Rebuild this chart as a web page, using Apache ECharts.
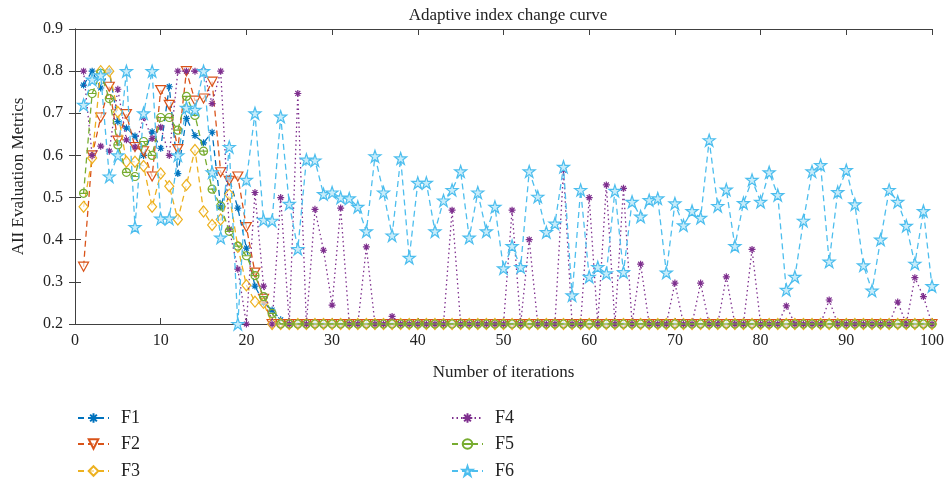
<!DOCTYPE html>
<html>
<head>
<meta charset="utf-8">
<script src="https://cdn.jsdelivr.net/npm/echarts@6/dist/echarts.min.js"></script>
<style>html,body{margin:0;padding:0;background:#fff}#c{width:948px;height:484px}</style>
</head>
<body>
<div id="c"></div>
<script>
const titleText = 'Adaptive index change curve';
const xName = 'Number of iterations';
const yName = 'AII Evaluation Metrics';
const seriesNames = ['F1', 'F2', 'F3', 'F4', 'F5', 'F6'];
const xTicks = [0, 10, 20, 30, 40, 50, 60, 70, 80, 90, 100];
const yTicks = [0.2, 0.3, 0.4, 0.5, 0.6, 0.7, 0.8, 0.9];

// values for iterations 1..100
const F1 = [0.767,0.8,0.76,0.8,0.68,0.665,0.646,0.6,0.656,0.617,0.763,0.557,0.688,0.647,0.63,0.655,0.478,0.546,0.475,0.38,
0.29,0.25,0.233,0.21,0.2,0.2,0.2,0.2,0.2,0.2,0.2,0.2,0.2,0.2,0.2,0.2,0.2,0.2,0.2,0.2,
0.2,0.2,0.2,0.2,0.2,0.2,0.2,0.2,0.2,0.2,0.2,0.2,0.2,0.2,0.2,0.2,0.2,0.2,0.2,0.2,
0.2,0.2,0.2,0.2,0.2,0.2,0.2,0.2,0.2,0.2,0.2,0.2,0.2,0.2,0.2,0.2,0.2,0.2,0.2,0.2,
0.2,0.2,0.2,0.2,0.2,0.2,0.2,0.2,0.2,0.2,0.2,0.2,0.2,0.2,0.2,0.2,0.2,0.2,0.2,0.2];
const F2 = [0.336,0.6,0.69,0.763,0.635,0.698,0.62,0.61,0.55,0.755,0.72,0.615,0.8,0.73,0.735,0.775,0.56,0.54,0.55,0.43,
0.322,0.26,0.2,0.2,0.2,0.2,0.2,0.2,0.2,0.2,0.2,0.2,0.2,0.2,0.2,0.2,0.2,0.2,0.2,0.2,
0.2,0.2,0.2,0.2,0.2,0.2,0.2,0.2,0.2,0.2,0.2,0.2,0.2,0.2,0.2,0.2,0.2,0.2,0.2,0.2,
0.2,0.2,0.2,0.2,0.2,0.2,0.2,0.2,0.2,0.2,0.2,0.2,0.2,0.2,0.2,0.2,0.2,0.2,0.2,0.2,
0.2,0.2,0.2,0.2,0.2,0.2,0.2,0.2,0.2,0.2,0.2,0.2,0.2,0.2,0.2,0.2,0.2,0.2,0.2,0.2];
const F3 = [0.478,0.594,0.8,0.8,0.703,0.585,0.585,0.575,0.478,0.557,0.527,0.448,0.53,0.613,0.467,0.435,0.448,0.507,0.383,0.292,
0.253,0.25,0.2,0.2,0.2,0.2,0.2,0.2,0.2,0.2,0.2,0.2,0.2,0.2,0.2,0.2,0.2,0.2,0.2,0.2,
0.2,0.2,0.2,0.2,0.2,0.2,0.2,0.2,0.2,0.2,0.2,0.2,0.2,0.2,0.2,0.2,0.2,0.2,0.2,0.2,
0.2,0.2,0.2,0.2,0.2,0.2,0.2,0.2,0.2,0.2,0.2,0.2,0.2,0.2,0.2,0.2,0.2,0.2,0.2,0.2,
0.2,0.2,0.2,0.2,0.2,0.2,0.2,0.2,0.2,0.2,0.2,0.2,0.2,0.2,0.2,0.2,0.2,0.2,0.2,0.2];
const F4 = [0.8,0.6,0.622,0.61,0.757,0.637,0.62,0.69,0.64,0.667,0.6,0.8,0.8,0.8,0.8,0.723,0.8,0.425,0.33,0.2,
0.512,0.29,0.2,0.5,0.2,0.747,0.2,0.472,0.375,0.245,0.475,0.2,0.2,0.383,0.2,0.2,0.218,0.2,0.2,0.2,
0.2,0.2,0.2,0.47,0.2,0.2,0.2,0.2,0.2,0.2,0.47,0.2,0.4,0.2,0.2,0.2,0.565,0.2,0.2,0.5,
0.2,0.53,0.2,0.522,0.2,0.342,0.2,0.2,0.2,0.297,0.2,0.2,0.297,0.2,0.2,0.312,0.2,0.2,0.377,0.2,
0.2,0.2,0.243,0.2,0.2,0.2,0.2,0.257,0.2,0.2,0.2,0.2,0.2,0.2,0.2,0.252,0.2,0.31,0.265,0.2];
const F5 = [0.51,0.747,0.795,0.735,0.625,0.56,0.55,0.633,0.6,0.69,0.69,0.66,0.74,0.695,0.61,0.52,0.48,0.42,0.385,0.362,
0.315,0.265,0.225,0.2,0.2,0.2,0.2,0.2,0.2,0.2,0.2,0.2,0.2,0.2,0.2,0.2,0.2,0.2,0.2,0.2,
0.2,0.2,0.2,0.2,0.2,0.2,0.2,0.2,0.2,0.2,0.2,0.2,0.2,0.2,0.2,0.2,0.2,0.2,0.2,0.2,
0.2,0.2,0.2,0.2,0.2,0.2,0.2,0.2,0.2,0.2,0.2,0.2,0.2,0.2,0.2,0.2,0.2,0.2,0.2,0.2,
0.2,0.2,0.2,0.2,0.2,0.2,0.2,0.2,0.2,0.2,0.2,0.2,0.2,0.2,0.2,0.2,0.2,0.2,0.2,0.2];
const F6 = [0.72,0.78,0.79,0.55,0.6,0.8,0.43,0.7,0.8,0.45,0.45,0.6,0.713,0.708,0.8,0.56,0.405,0.62,0.2,0.542,
0.7,0.447,0.445,0.692,0.485,0.378,0.59,0.588,0.508,0.512,0.5,0.498,0.478,0.42,0.598,0.512,0.41,0.593,0.357,0.535,
0.535,0.42,0.493,0.518,0.562,0.405,0.512,0.42,0.478,0.332,0.385,0.335,0.562,0.502,0.418,0.438,0.573,0.268,0.518,0.312,
0.335,0.32,0.516,0.323,0.49,0.455,0.494,0.498,0.322,0.486,0.434,0.468,0.452,0.636,0.48,0.519,0.385,0.487,0.542,0.49,
0.56,0.506,0.281,0.312,0.445,0.562,0.577,0.348,0.513,0.565,0.484,0.339,0.279,0.4,0.518,0.49,0.433,0.343,0.468,0.29];

const allValues = [F1, F2, F3, F4, F5, F6];
const colors = ['#0072BD', '#D95319', '#EDB120', '#7E2F8E', '#77AC30', '#4DBEEE'];

const SYM = {
  asterisk: 'path://M5 0L5 10M0 5L10 5M1.5 1.5L8.5 8.5M8.5 1.5L1.5 8.5',
  triDown: 'path://M0 0L10 0L5 10Z',
  diamond: 'path://M5 0L10 5L5 10L0 5Z',
  circBar: 'path://M0 5A5 5 0 1 1 10 5A5 5 0 1 1 0 5ZM0 5L10 5',
  star: 'path://M5 0L6.2 3.6L10 3.6L6.9 5.9L8.1 9.6L5 7.3L1.9 9.6L3.1 5.9L0 3.6L3.8 3.6Z'
};
const styles = [
  {sym: SYM.asterisk, size: 7, dash: [6, 4], fill: 'rgba(0,0,0,0)'},
  {sym: SYM.triDown, size: [10, 9], dash: [6, 4], fill: 'rgba(255,255,255,0.6)'},
  {sym: SYM.diamond, size: [9, 11], dash: [6, 4], fill: 'rgba(255,255,255,0.6)'},
  {sym: SYM.asterisk, size: 7, dash: [1.5, 3], fill: 'rgba(0,0,0,0)'},
  {sym: SYM.circBar, size: 8, dash: [6, 4], fill: 'rgba(0,0,0,0)'},
  {sym: SYM.star, size: 12, dash: [6, 4], fill: '#c8ecfa'}
];

const FONT = 'Liberation Serif';
const series = seriesNames.map((name, k) => ({
  name: name,
  type: 'line',
  data: allValues[k].map((v, i) => [i + 1, v]),
  symbol: styles[k].sym,
  symbolSize: styles[k].size,
  showAllSymbol: true,
  lineStyle: {color: colors[k], width: 1.3, type: styles[k].dash},
  itemStyle: {color: styles[k].fill, borderColor: colors[k], borderWidth: 1.2},
  emphasis: {disabled: true},
  z: 2 + k
}));

const legendCols = [72, 446];
const legendTops = [404, 430, 457];
const legends = seriesNames.map((name, k) => ({
  data: [name],
  left: legendCols[Math.floor(k / 3)],
  top: legendTops[k % 3],
  itemWidth: 31, itemHeight: 12,
  selectedMode: false,
  textStyle: {fontFamily: FONT, fontSize: 18, color: '#222', padding: [0, 0, 0, 7]}
}));

const axisLineStyle = {color: '#404040', width: 1};
const chart = echarts.init(document.getElementById('c'), null, {renderer: 'canvas'});
chart.setOption({
  animation: false,
  backgroundColor: '#fff',
  title: {
    text: titleText, left: 503, top: 2, textAlign: 'center',
    textStyle: {fontFamily: FONT, fontSize: 17, fontWeight: 'normal', color: '#222'}
  },
  grid: {left: 75, right: 16, top: 29, bottom: 160},
  legend: legends,
  xAxis: [
    {type: 'value', min: xTicks[0], max: xTicks[xTicks.length - 1], interval: 10, position: 'bottom',
     name: xName, nameLocation: 'middle', nameGap: 40,
     nameTextStyle: {fontFamily: FONT, fontSize: 17, color: '#222'},
     axisLine: {lineStyle: axisLineStyle}, axisTick: {inside: true, length: 6, lineStyle: axisLineStyle},
     axisLabel: {fontFamily: FONT, fontSize: 16, color: '#222', margin: 9}, splitLine: {show: false}},
    {type: 'value', min: xTicks[0], max: xTicks[xTicks.length - 1], interval: 10, position: 'top',
     axisLine: {lineStyle: axisLineStyle}, axisTick: {inside: true, length: 6, lineStyle: axisLineStyle},
     axisLabel: {show: false}, splitLine: {show: false}}
  ],
  yAxis: [
    {type: 'value', min: yTicks[0], max: yTicks[yTicks.length - 1], interval: 0.1, position: 'left',
     name: yName, nameLocation: 'middle', nameGap: 48,
     nameTextStyle: {fontFamily: FONT, fontSize: 17, color: '#222'},
     axisLine: {show: true, lineStyle: axisLineStyle}, axisTick: {show: true, inside: true, length: 6, lineStyle: axisLineStyle},
     axisLabel: {fontFamily: FONT, fontSize: 16, color: '#222', margin: 12, formatter: v => v.toFixed(1)}, splitLine: {show: false}},
    {type: 'value', min: yTicks[0], max: yTicks[yTicks.length - 1], interval: 0.1, position: 'right',
     axisLine: {show: true, lineStyle: axisLineStyle}, axisTick: {show: true, inside: true, length: 6, lineStyle: axisLineStyle},
     axisLabel: {show: false}, splitLine: {show: false}}
  ],
  series: series
});
</script>
</body>
</html>
